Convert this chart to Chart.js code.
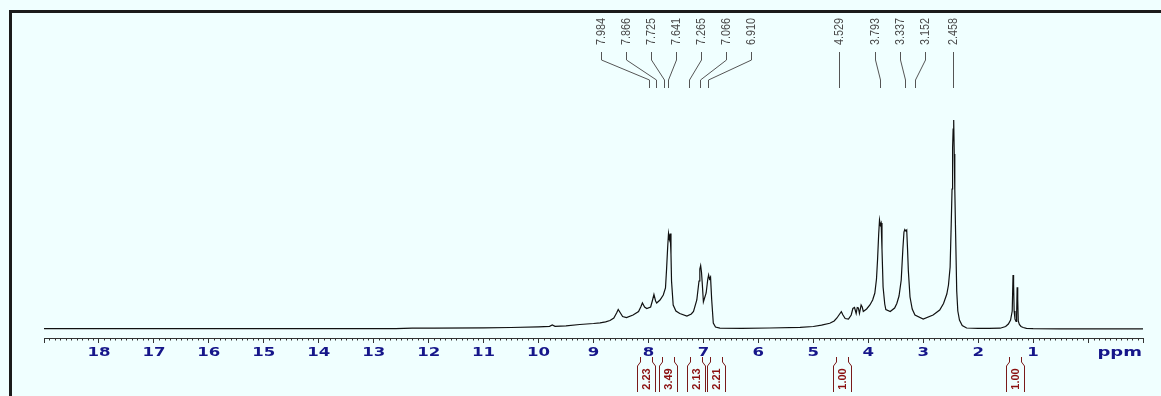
<!DOCTYPE html>
<html><head><meta charset="utf-8">
<script src="https://cdn.jsdelivr.net/npm/chart.js@4"></script>
<style>html,body{margin:0;padding:0;background:#f0ffff;overflow:hidden}canvas{display:block}</style>
</head><body>
<canvas id="c" width="1161" height="396"></canvas>
<script>
// chemical shift (ppm) and intensity
const shiftPpm = [
  19.0, 16.0, 13.5, 12.6, 12.3, 11.9, 11.0, 10.5, 10.0, 9.80, 9.75, 9.70, 9.50, 9.25, 9.00, 8.88, 8.78, 8.70, 8.63,
  8.58, 8.55, 8.51, 8.47, 8.40, 8.28, 8.18, 8.14, 8.11, 8.07, 8.03, 7.96, 7.93, 7.90, 7.87, 7.85,
  7.79, 7.73, 7.69, 7.67, 7.65, 7.635, 7.62, 7.605, 7.59, 7.58, 7.55, 7.50, 7.43,
  7.30, 7.22, 7.18, 7.12, 7.08, 7.065, 7.05, 7.035, 7.02, 7.00, 6.95, 6.92, 6.905, 6.89, 6.87, 6.85, 6.82, 6.78, 6.70,
  6.3, 5.8, 5.24, 5.0, 4.85, 4.70, 4.62, 4.57, 4.52, 4.49, 4.46, 4.42, 4.36, 4.31, 4.28, 4.25, 4.22, 4.20, 4.18, 4.16, 4.13, 4.11, 4.09,
  4.03, 3.97, 3.92, 3.88, 3.85, 3.83, 3.81, 3.795, 3.78, 3.765, 3.75, 3.73, 3.70, 3.68, 3.60, 3.52, 3.48, 3.44, 3.40, 3.37, 3.35, 3.335, 3.315, 3.30, 3.285, 3.27, 3.24, 3.20, 3.15,
  3.00, 2.82, 2.70, 2.63, 2.57, 2.54, 2.51, 2.49, 2.475, 2.465, 2.455, 2.445, 2.435, 2.425, 2.41, 2.39, 2.37, 2.34, 2.29, 2.21,
  2.0, 1.80, 1.60, 1.50, 1.45, 1.41, 1.38, 1.365, 1.355, 1.345, 1.33, 1.31, 1.30, 1.29, 1.28, 1.27, 1.25, 1.22, 1.18, 1.12, 1.0, 0.5, 0.0, -1.0
];
const intensity = [
  0.3, 0.4, 0.3, 0.4, 0.9, 0.8, 1.2, 1.5, 2.2, 2.6, 4.0, 2.7, 3.2, 4.5, 5.5, 6.2, 7.2, 8.5, 11,
  16, 19.5, 16, 12.5, 11.5, 14, 17.5, 22, 26, 22, 20.5, 22, 28, 34.5, 28, 26,
  29, 34, 41, 60, 82, 95.5, 90, 95.5, 75, 48, 24, 18, 15.5,
  13, 15, 17.5, 29, 48, 60, 63.5, 57, 45, 27, 36, 50, 54, 50, 52, 30, 6, 2, 0.8,
  0.7, 1.0, 1.6, 2.5, 3.8, 5.7, 8, 11, 15, 17.3, 14, 10.5, 10, 14, 20.5, 21.5, 15.5, 21.5, 21, 15.5, 24, 22, 17.5,
  20, 24, 29, 36, 50, 70, 95, 109, 104, 106, 80, 42, 25, 19.5, 17.5, 21, 25.5, 33, 49, 80, 97, 99.5, 98, 99, 80, 58, 32, 20, 14,
  10, 14, 19, 25.5, 35, 44, 62, 105, 140, 181, 200, 209, 175, 140, 95, 38, 18, 9, 3.5, 1,
  0.6, 0.6, 0.8, 2.5, 5, 9, 18, 54, 45, 18, 10, 7.5, 14, 41.7, 30, 8, 4.5, 2.5, 1.5, 0.7, 0.3, 0.2, 0.2, 0.1
];
const xTickLabels = ['18','17','16','15','14','13','12','11','10','9','8','7','6','5','4','3','2','1'];
const xUnitLabel = 'ppm';
const peakLabels = ['7.984','7.866','7.725','7.641','7.265','7.066','6.910','4.529','3.793','3.337','3.152','2.458'];
const integralValues = ['2.23','3.49','2.13','2.21','1.00','1.00'];
const integralFrom = [8.25, 7.85, 7.15, 6.97, 4.62, 1.45];
const integralTo   = [7.85, 7.45, 6.97, 6.70, 4.34, 1.20];

function spread(centers, gap) {
  const order = centers.map((c, i) => i).sort((a, b) => centers[a] - centers[b]);
  let clusters = order.map(i => ({ items: [i], mean: centers[i] }));
  let changed = true;
  while (changed) {
    changed = false;
    for (let k = 0; k < clusters.length - 1; k++) {
      const a = clusters[k], b = clusters[k + 1];
      const aEnd = a.mean + (a.items.length - 1) * gap / 2;
      const bStart = b.mean - (b.items.length - 1) * gap / 2;
      if (bStart - aEnd < gap) {
        const items = a.items.concat(b.items);
        const mean = items.reduce((s, i) => s + centers[i], 0) / items.length;
        clusters.splice(k, 2, { items, mean });
        changed = true; break;
      }
    }
  }
  const out = new Array(centers.length);
  clusters.forEach(c => {
    const start = c.mean - (c.items.length - 1) * gap / 2;
    c.items.forEach((i, j) => { out[i] = start + j * gap; });
  });
  return out;
}

const nmrPlugin = {
  id: 'nmr',
  beforeDraw(chart) {
    const ctx = chart.ctx;
    ctx.save();
    ctx.fillStyle = '#f0ffff';
    ctx.fillRect(0, 0, chart.width, chart.height);
    ctx.fillStyle = '#1b1b1b';
    ctx.fillRect(9, 10, chart.width - 9, 3);
    ctx.fillRect(9, 10, 3, chart.height - 10);
    ctx.restore();
  },
  afterDraw(chart) {
    const ctx = chart.ctx, xs = chart.scales.x, area = chart.chartArea;
    const axisY = area.bottom;
    ctx.save();
    // minor ticks
    ctx.strokeStyle = '#333'; ctx.lineWidth = 1;
    ctx.beginPath();
    for (let k = -10; k <= 190; k++) {
      if (k % 10 === 0) continue;
      const px = Math.round(xs.getPixelForValue(k / 10)) + 0.5;
      ctx.moveTo(px, axisY); ctx.lineTo(px, axisY + 2.5);
    }
    ctx.stroke();
    // tick labels
    ctx.fillStyle = '#16168a';
    ctx.font = 'bold 12px "DejaVu Sans"';
    ctx.textAlign = 'center'; ctx.textBaseline = 'alphabetic';
    xTickLabels.forEach(t => {
      const px = xs.getPixelForValue(Number(t));
      ctx.save(); ctx.translate(px, axisY + 18); ctx.scale(1.38, 1); ctx.fillText(t, 0, 0); ctx.restore();
    });
    ctx.save(); ctx.translate(area.right - 1, axisY + 18); ctx.scale(1.5, 1);
    ctx.textAlign = 'right'; ctx.fillText(xUnitLabel, 0, 0); ctx.restore();

    // peak labels with leaders
    const peakPx = peakLabels.map(l => xs.getPixelForValue(Number(l)));
    const labPx = spread(peakPx, 25);
    ctx.strokeStyle = '#555'; ctx.lineWidth = 1;
    ctx.fillStyle = '#4a4a4a';
    ctx.font = '12px "Liberation Sans"';
    peakLabels.forEach((l, i) => {
      const lx = Math.round(labPx[i]) + 0.5, px = Math.round(peakPx[i]) + 0.5;
      ctx.beginPath();
      ctx.moveTo(lx, 52); ctx.lineTo(lx, 60); ctx.lineTo(px, 80); ctx.lineTo(px, 88);
      ctx.stroke();
      ctx.save(); ctx.translate(lx, 45); ctx.rotate(-Math.PI / 2); ctx.scale(0.9, 1);
      ctx.textAlign = 'left'; ctx.textBaseline = 'middle';
      ctx.fillText(l, 0, 0); ctx.restore();
    });

    // integrals
    const intC = integralFrom.map((f, i) => (xs.getPixelForValue(f) + xs.getPixelForValue(integralTo[i])) / 2);
    const intPos = spread(intC, 20);
    ctx.strokeStyle = '#7a1a1a'; ctx.fillStyle = '#8b1010';
    ctx.font = 'bold 11px "Liberation Sans"';
    integralValues.forEach((v, i) => {
      const cx = Math.round(intPos[i]) + 0.5;
      ctx.beginPath();
      ctx.moveTo(cx - 6, 357); ctx.lineTo(cx - 6, 362); ctx.lineTo(cx - 9, 366); ctx.lineTo(cx - 9, 392);
      ctx.moveTo(cx + 6, 357); ctx.lineTo(cx + 6, 362); ctx.lineTo(cx + 9, 366); ctx.lineTo(cx + 9, 392);
      ctx.stroke();
      ctx.save(); ctx.translate(cx, 379); ctx.rotate(-Math.PI / 2);
      ctx.textAlign = 'center'; ctx.textBaseline = 'middle';
      ctx.fillText(v, 0, 0); ctx.restore();
    });
    ctx.restore();
  }
};

new Chart(document.getElementById('c'), {
  type: 'scatter',
  data: {
    datasets: [{
      data: shiftPpm.map((p, i) => ({ x: p, y: intensity[i] })),
      showLine: true, pointRadius: 0, borderColor: '#111', borderWidth: 1.2, tension: 0
    }]
  },
  options: {
    responsive: false, devicePixelRatio: 1, animation: false,
    layout: { padding: { left: 44, right: 18, top: 100, bottom: 53 } },
    plugins: { legend: { display: false }, tooltip: { enabled: false } },
    scales: {
      x: {
        type: 'linear', reverse: true, min: -1, max: 19,
        ticks: { display: false, stepSize: 1, autoSkip: false },
        grid: { drawOnChartArea: false, tickLength: 5, color: '#333' },
        border: { display: true, color: '#333', width: 1 }
      },
      y: { display: false, min: -9, max: 229 }
    }
  },
  plugins: [nmrPlugin]
});
</script>
</body></html>
